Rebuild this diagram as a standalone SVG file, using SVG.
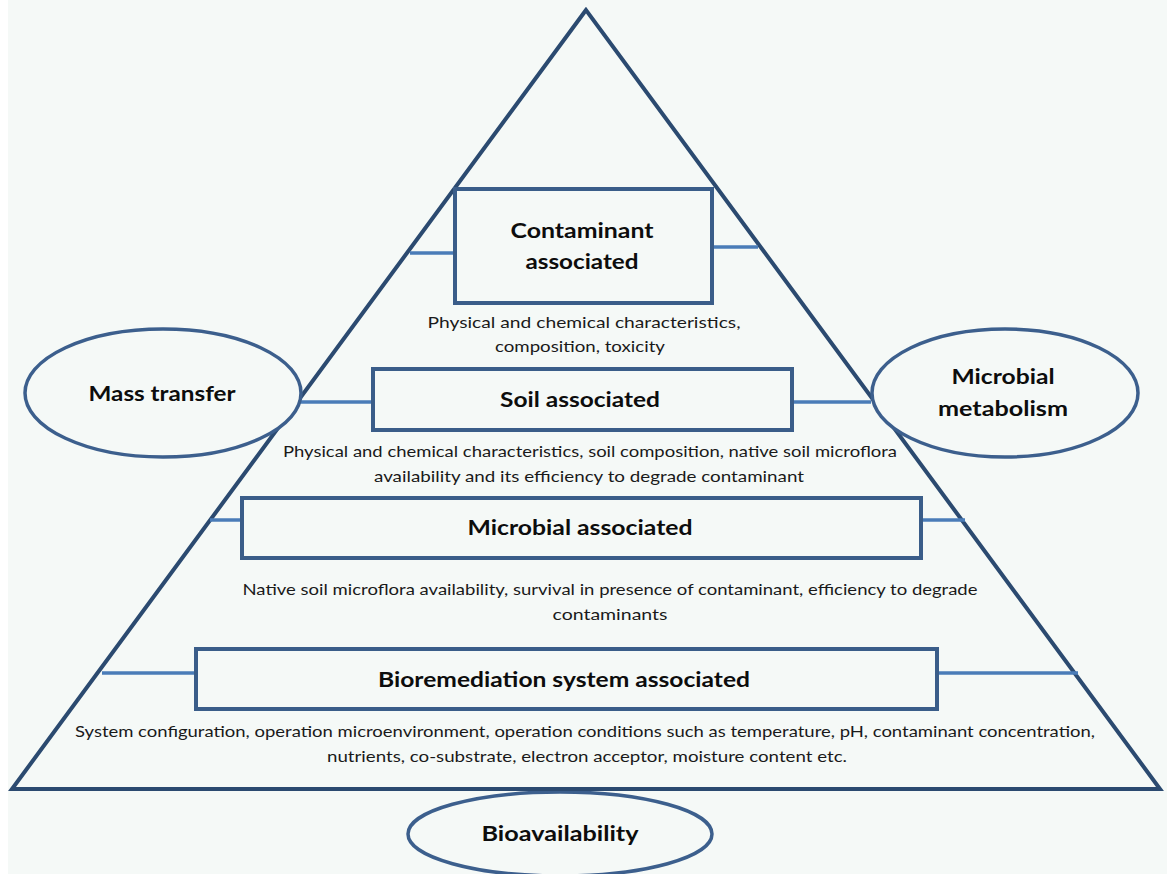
<svg xmlns="http://www.w3.org/2000/svg" width="1170" height="874" viewBox="0 0 1170 874">
  <style>
    .title { font-family: Lato, "Open Sans", "Liberation Sans", sans-serif; font-weight: bold; font-size: 21px; fill: #0d0d0d; text-anchor: middle; }
    .desc { font-family: Lato, "Open Sans", "Liberation Sans", sans-serif; font-size: 16px; fill: #1a1a1a; text-anchor: middle; }
    .box { fill: #f5f9f7; stroke: #3a5d89; stroke-width: 4; }
    .oval { fill: #f5f9f7; stroke: #3c5f8d; stroke-width: 3.5; }
    .link { stroke: #4a7cb8; stroke-width: 3.5; fill: none; }
  </style>

  <!-- page -->
  <rect x="0" y="0" width="1170" height="874" fill="#ffffff"/>
  <rect x="8" y="0" width="1159" height="874" fill="#f5f9f7"/>

  <!-- pyramid outline -->
  <polygon id="pyramid" points="586,10 12,789 1160,789" fill="#f5f9f7" stroke="#2b4a70" stroke-width="4" stroke-linejoin="miter"/>

  <!-- connectors from pyramid tiers to the pyramid sides / outer factors -->
  <g id="connectors">
    <line class="link" x1="410" y1="253" x2="455" y2="253"/>
    <line class="link" x1="712" y1="247" x2="758" y2="247"/>
    <line class="link" x1="300" y1="402" x2="373" y2="402"/>
    <line class="link" x1="792" y1="402" x2="871" y2="402"/>
    <line class="link" x1="210" y1="520" x2="242" y2="520"/>
    <line class="link" x1="921" y1="520" x2="965" y2="520"/>
    <line class="link" x1="102" y1="673" x2="196" y2="673"/>
    <line class="link" x1="937" y1="673" x2="1078" y2="673"/>
  </g>

  <!-- tier 1 -->
  <g id="contaminant-associated">
    <rect class="box" x="455" y="189" width="257" height="114"/>
    <text class="title" x="582" y="238" textLength="143" lengthAdjust="spacingAndGlyphs">Contaminant</text>
    <text class="title" x="582" y="269" textLength="113" lengthAdjust="spacingAndGlyphs">associated</text>
    <text class="desc" x="584" y="328" textLength="313" lengthAdjust="spacingAndGlyphs">Physical and chemical characteristics,</text>
    <text class="desc" x="580" y="352" textLength="170" lengthAdjust="spacingAndGlyphs">composition, toxicity</text>
  </g>

  <!-- tier 2 -->
  <g id="soil-associated">
    <rect class="box" x="373" y="369" width="419" height="61"/>
    <text class="title" x="580" y="407" textLength="160" lengthAdjust="spacingAndGlyphs">Soil associated</text>
    <text class="desc" x="590" y="457" textLength="614" lengthAdjust="spacingAndGlyphs">Physical and chemical characteristics, soil composition, native soil microflora</text>
    <text class="desc" x="589" y="482" textLength="430" lengthAdjust="spacingAndGlyphs">availability and its efficiency to degrade contaminant</text>
  </g>

  <!-- tier 3 -->
  <g id="microbial-associated">
    <rect class="box" x="242" y="498" width="679" height="60"/>
    <text class="title" x="580" y="535" textLength="225" lengthAdjust="spacingAndGlyphs">Microbial associated</text>
    <text class="desc" x="610" y="595" textLength="735" lengthAdjust="spacingAndGlyphs">Native soil microflora availability, survival in presence of contaminant, efficiency to degrade</text>
    <text class="desc" x="610" y="620" textLength="115" lengthAdjust="spacingAndGlyphs">contaminants</text>
  </g>

  <!-- tier 4 -->
  <g id="bioremediation-system-associated">
    <rect class="box" x="196" y="649" width="741" height="60"/>
    <text class="title" x="564" y="687" textLength="372" lengthAdjust="spacingAndGlyphs">Bioremediation system associated</text>
    <text class="desc" x="585" y="737" textLength="1020" lengthAdjust="spacingAndGlyphs">System configuration, operation microenvironment, operation conditions such as temperature, pH, contaminant concentration,</text>
    <text class="desc" x="587" y="762" textLength="520" lengthAdjust="spacingAndGlyphs">nutrients, co-substrate, electron acceptor, moisture content etc.</text>
  </g>

  <!-- outer factors -->
  <g id="mass-transfer">
    <ellipse class="oval" cx="163" cy="393" rx="138" ry="64"/>
    <text class="title" x="162" y="401" textLength="147" lengthAdjust="spacingAndGlyphs">Mass transfer</text>
  </g>

  <g id="microbial-metabolism">
    <ellipse class="oval" cx="1005" cy="393" rx="133" ry="64"/>
    <text class="title" x="1003" y="384" textLength="103" lengthAdjust="spacingAndGlyphs">Microbial</text>
    <text class="title" x="1003" y="416" textLength="130" lengthAdjust="spacingAndGlyphs">metabolism</text>
  </g>

  <g id="bioavailability">
    <ellipse class="oval" cx="560" cy="834" rx="152" ry="42"/>
    <text class="title" x="560" y="841" textLength="157" lengthAdjust="spacingAndGlyphs">Bioavailability</text>
  </g>

  <!-- base line kept on top of the bottom oval -->
  <line x1="12" y1="789" x2="1160" y2="789" stroke="#2b4a70" stroke-width="4"/>
</svg>
